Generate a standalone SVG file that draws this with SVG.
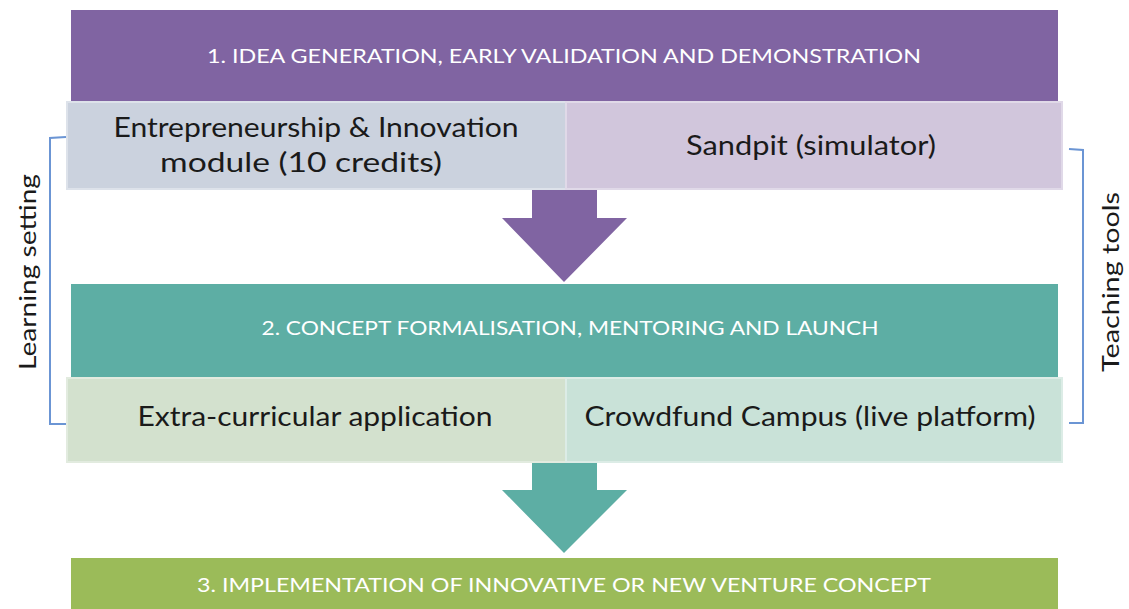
<svg xmlns="http://www.w3.org/2000/svg" width="1129" height="609" viewBox="0 0 1129 609">
  <style>
    .band { stroke: none; }
    .head { font-family: Lato, "Open Sans", sans-serif; font-size: 20px; fill: #ffffff; text-anchor: middle; }
    .cell { font-family: Lato, "Open Sans", sans-serif; font-size: 26px; fill: #1a1a1a; text-anchor: middle; }
    .side { font-family: Lato, "Open Sans", sans-serif; font-size: 24px; fill: #1a1a1a; text-anchor: middle; }
    .brace { fill: none; stroke: #6b95d4; stroke-width: 2; }
  </style>

  <!-- stage 1 -->
  <g id="stage1">
    <rect class="band" x="71" y="10" width="987" height="92" fill="#8064a2"/>
    <text class="head" x="564" y="63" textLength="714" lengthAdjust="spacingAndGlyphs">1. IDEA GENERATION, EARLY VALIDATION AND DEMONSTRATION</text>
  </g>
  <g id="module">
    <rect x="67" y="102" width="499" height="87" fill="#cbd2de" stroke="#dde2ea" stroke-width="2"/>
    <text class="cell" x="316" y="137" textLength="405" lengthAdjust="spacingAndGlyphs">Entrepreneurship &amp; Innovation</text>
    <text class="cell" x="301" y="172" textLength="282" lengthAdjust="spacingAndGlyphs">module (10 credits)</text>
  </g>
  <g id="sandpit">
    <rect x="566" y="102" width="496" height="87" fill="#d1c6dc" stroke="#e0d9e8" stroke-width="2"/>
    <text class="cell" x="811" y="155" textLength="250" lengthAdjust="spacingAndGlyphs">Sandpit (simulator)</text>
  </g>

  <!-- stage 2 -->
  <g id="stage2">
    <rect class="band" x="71" y="284" width="987" height="94" fill="#5daea4"/>
    <text class="head" x="570" y="335" textLength="617" lengthAdjust="spacingAndGlyphs">2. CONCEPT FORMALISATION, MENTORING AND LAUNCH</text>
  </g>
  <g id="extracurricular">
    <rect x="67" y="378" width="499" height="84" fill="#d3e1ce" stroke="#e2ebdf" stroke-width="2"/>
    <text class="cell" x="315" y="426" textLength="355" lengthAdjust="spacingAndGlyphs">Extra-curricular application</text>
  </g>
  <g id="crowdfund">
    <rect x="566" y="378" width="496" height="84" fill="#c9e2d8" stroke="#dcece6" stroke-width="2"/>
    <text class="cell" x="810" y="426" textLength="451" lengthAdjust="spacingAndGlyphs">Crowdfund Campus (live platform)</text>
  </g>

  <!-- stage 3 -->
  <g id="stage3">
    <rect class="band" x="71" y="558" width="987" height="51" fill="#9bbb59"/>
    <text class="head" x="564" y="592" textLength="734" lengthAdjust="spacingAndGlyphs">3. IMPLEMENTATION OF INNOVATIVE OR NEW VENTURE CONCEPT</text>
  </g>

  <!-- connectors: block arrows between stages and the side brackets -->
  <g id="connectors">
    <polygon points="532,190 597,190 597,218 627,218 564,282 502,218 532,218" fill="#8064a2"/>
    <polygon points="532,463 597,463 597,490 627,490 564,553 502,490 532,490" fill="#5daea4"/>
    <polyline class="brace" points="66,137 50,138 50,424 66,424"/>
    <polyline class="brace" points="1069,149 1083,150 1083,423 1069,423"/>
  </g>

  <g id="learning-setting">
    <text class="side" transform="translate(36,272) rotate(-90)" textLength="196" lengthAdjust="spacingAndGlyphs">Learning setting</text>
  </g>
  <g id="teaching-tools">
    <text class="side" transform="translate(1119,282) rotate(-90)" textLength="180" lengthAdjust="spacingAndGlyphs">Teaching tools</text>
  </g>
</svg>
